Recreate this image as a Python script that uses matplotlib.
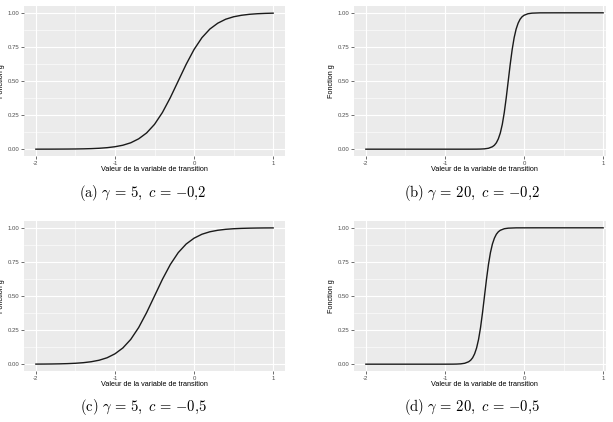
import numpy as np
import matplotlib
matplotlib.use("Agg")
import matplotlib.pyplot as plt
from matplotlib.patches import Rectangle

plt.rcParams['mathtext.fontset'] = 'cm'
plt.rcParams['font.family'] = ['Liberation Sans', 'DejaVu Sans']

# values
x_a = [-2.0, -1.9, -1.8, -1.7, -1.6, -1.5, -1.4, -1.3, -1.2, -1.1, -1.0,
       -0.9, -0.8, -0.7, -0.6, -0.5, -0.4, -0.3, -0.2, -0.1, 0.0,
       0.1, 0.2, 0.3, 0.4, 0.5, 0.6, 0.7, 0.8, 0.9, 1.0]
y_a = [0.0001, 0.0002, 0.0003, 0.0006, 0.0009, 0.0015, 0.0025, 0.0041, 0.0067, 0.011, 0.018,
       0.029, 0.047, 0.076, 0.119, 0.182, 0.269, 0.378, 0.5, 0.622, 0.731,
       0.818, 0.881, 0.924, 0.953, 0.971, 0.982, 0.989, 0.9933, 0.9959, 0.9975]

x_b = [-2.0, -1.5, -1.0, -0.8, -0.7, -0.6, -0.55, -0.5, -0.45, -0.4,
       -0.375, -0.35, -0.325, -0.3, -0.275, -0.25, -0.225, -0.2, -0.175, -0.15,
       -0.125, -0.1, -0.075, -0.05, -0.025, 0.0, 0.05, 0.1, 0.2, 0.5, 1.0]
y_b = [0.0, 0.0, 0.0, 0.0, 0.00005, 0.0003, 0.0009, 0.0025, 0.0067, 0.018,
       0.029, 0.047, 0.076, 0.119, 0.182, 0.269, 0.378, 0.5, 0.622, 0.731,
       0.818, 0.881, 0.924, 0.953, 0.971, 0.982, 0.9933, 0.9975, 0.9997, 1.0, 1.0]

x_c = x_a
y_c = [0.0006, 0.0009, 0.0015, 0.0025, 0.0041, 0.0067, 0.011, 0.018, 0.029, 0.047, 0.076,
       0.119, 0.182, 0.269, 0.378, 0.5, 0.622, 0.731, 0.818, 0.881, 0.924,
       0.953, 0.971, 0.982, 0.989, 0.9933, 0.9959, 0.9975, 0.9985, 0.9991, 0.9994]

x_d = [-2.0, -1.5, -1.1, -1.0, -0.9, -0.85, -0.8, -0.75, -0.7,
       -0.675, -0.65, -0.625, -0.6, -0.575, -0.55, -0.525, -0.5, -0.475, -0.45,
       -0.425, -0.4, -0.375, -0.35, -0.325, -0.3, -0.25, -0.2, -0.1, 0.2, 0.5, 1.0]
y_d = [0.0, 0.0, 0.0, 0.00005, 0.0003, 0.0009, 0.0025, 0.0067, 0.018,
       0.029, 0.047, 0.076, 0.119, 0.182, 0.269, 0.378, 0.5, 0.622, 0.731,
       0.818, 0.881, 0.924, 0.953, 0.971, 0.982, 0.9933, 0.9975, 0.9997, 1.0, 1.0, 1.0]

captions = [r"$\mathrm{(a)}\ \gamma\,=\,5,\ c\,=\,{-}0{,}2$",
            r"$\mathrm{(b)}\ \gamma\,=\,20,\ c\,=\,{-}0{,}2$",
            r"$\mathrm{(c)}\ \gamma\,=\,5,\ c\,=\,{-}0{,}5$",
            r"$\mathrm{(d)}\ \gamma\,=\,20,\ c\,=\,{-}0{,}5$"]
x_ticks = [-2, -1, 0, 1]
y_ticks = [0.0, 0.25, 0.5, 0.75, 1.0]
y_ticklabels = ["0.00", "0.25", "0.50", "0.75", "1.00"]

W, H = 613, 422
fig = plt.figure(figsize=(W / 100, H / 100), dpi=100)

# panel boxes in pixels: left, top, right, bottom
boxes = [(24, 6, 285, 156), (354, 6, 615, 156),
         (24, 221, 285, 371), (354, 221, 615, 371)]
cap_pos = [(143, 193), (472, 193), (143, 407), (472, 407)]
series = [(x_a, y_a), (x_b, y_b), (x_c, y_c), (x_d, y_d)]

for (l, t, r, b), (xs, ys), cap, (cx, cy) in zip(boxes, series, captions, cap_pos):
    ax = fig.add_axes([l / W, 1 - b / H, (r - l) / W, (b - t) / H])
    ax.set_facecolor('#EBEBEB')
    ax.plot(xs, ys, color='#1a1a1a', lw=1.0, zorder=3)
    ax.set_xlim(-2.15, 1.15)
    ax.set_ylim(-0.05, 1.05)
    ax.set_xticks(x_ticks)
    ax.set_xticklabels([str(v) for v in x_ticks])
    ax.set_yticks(y_ticks)
    ax.set_yticklabels(y_ticklabels)
    ax.set_xticks([-1.5, -0.5, 0.5], minor=True)
    ax.set_yticks([0.125, 0.375, 0.625, 0.875], minor=True)
    ax.grid(which='major', color='white', lw=0.8)
    ax.grid(which='minor', color='white', lw=0.4)
    ax.set_axisbelow(True)
    for s in ax.spines.values():
        s.set_visible(False)
    ax.tick_params(which='major', length=2, width=0.5, color='#333333',
                   labelsize=4.3, labelcolor='#4D4D4D', pad=1.5)
    ax.tick_params(which='minor', length=0)
    ax.set_xlabel("Valeur de la variable de transition", fontsize=5.2)
    ax.set_ylabel("Fonction g", fontsize=5.2)
    ax.xaxis.set_label_coords(0.5, -10 / (b - t))
    ax.yaxis.set_label_coords(-19 / (r - l), 0.5)
    fig.text(cx / W, 1 - cy / H, cap, fontsize=10.5, ha='center', va='center')

# the right panels are cut at the page edge
fig.patches.append(Rectangle((606 / W, 0), 1 - 606 / W, 1, transform=fig.transFigure,
                             facecolor='white', edgecolor='none', zorder=10))

fig.savefig("out.png", dpi=100)
